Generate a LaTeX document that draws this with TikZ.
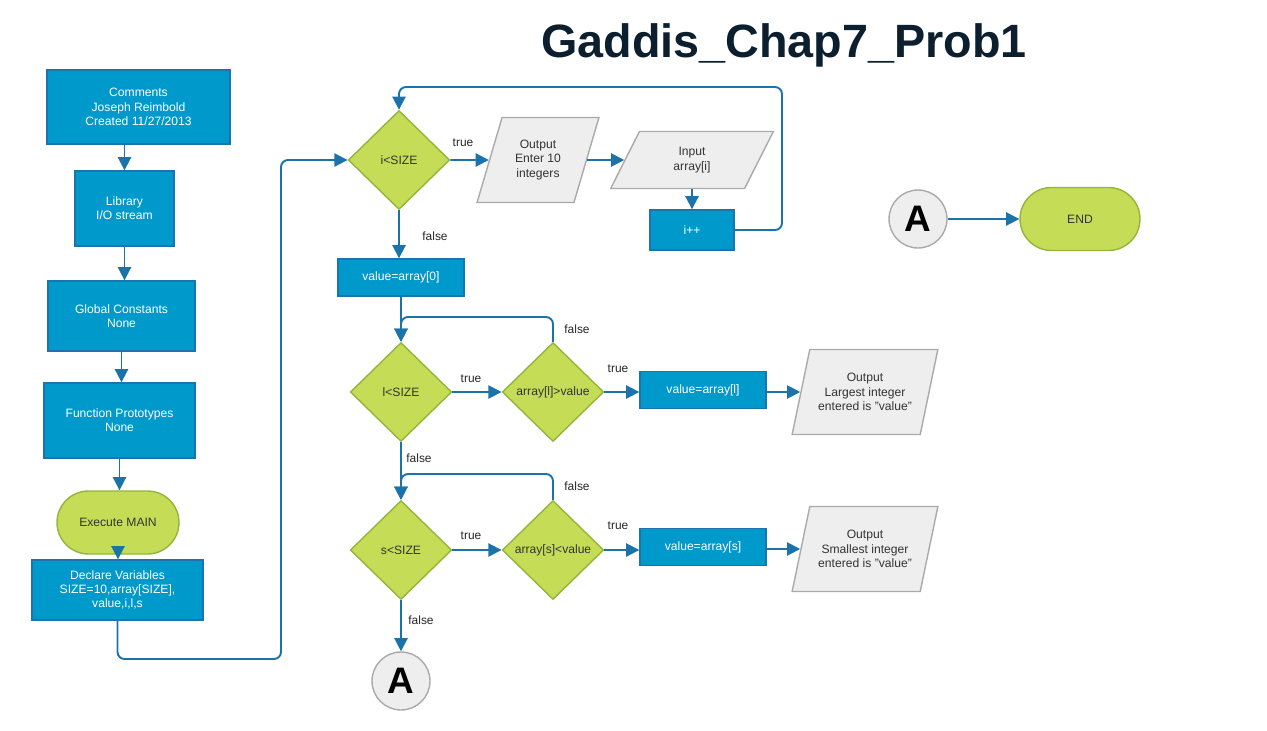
\documentclass[tikz,border=0pt]{standalone}
\usepackage{fontspec}
\setmainfont{Liberation Sans}
\usepackage{tikz}
\usetikzlibrary{shapes.geometric,shapes.misc,arrows.meta}

\definecolor{boxblue}{HTML}{0099CC}
\definecolor{boxedge}{HTML}{1B75AC}
\definecolor{flowblue}{HTML}{1C73AA}
\definecolor{decgreen}{HTML}{C5DC57}
\definecolor{decedge}{HTML}{95B53A}
\definecolor{iogrey}{HTML}{EEEEEE}
\definecolor{ioedge}{HTML}{AAAAAA}
\definecolor{titleblue}{HTML}{0B1F2E}

\tikzset{
  txt/.style={font=\fontsize{6.9}{8.1}\selectfont, align=center},
  proc/.style={txt, rectangle, draw=boxedge, fill=boxblue, line width=0.8pt, text=white, inner sep=0pt},
  dec/.style={txt, diamond, aspect=1, draw=decedge, fill=decgreen, line width=0.8pt, text=black!80,
              inner sep=0pt, minimum width=2.03cm, minimum height=1.98cm},
  io/.style={txt, trapezium, trapezium left angle=68, trapezium right angle=112, trapezium stretches=true,
             draw=ioedge, fill=iogrey, line width=0.8pt, text=black!80, inner sep=0pt},
  term/.style={txt, rounded rectangle, draw=decedge, fill=decgreen, line width=0.8pt, text=black!80, inner sep=0pt},
  conn/.style={circle, draw=ioedge, fill=iogrey, line width=0.8pt, minimum size=1.16cm, inner sep=0pt,
               font=\bfseries\fontsize{21}{21}\selectfont},
  flow/.style={draw=flowblue, line width=1.1pt, rounded corners=4pt, -{Triangle[length=7.5pt,width=7.5pt]}},
  lbl/.style={font=\fontsize{6.8}{8}\selectfont, text=black!85}
}

\begin{document}
\begin{tikzpicture}[x=0.02cm, y=-0.02cm]
      \useasboundingbox (0,0) rectangle (1267,730);
      \node[font=\bfseries\fontsize{26.6}{27}\selectfont, text=titleblue] (Title) at (784,45) {Gaddis\_Chap7\_Prob1};

      % left column
      \node[proc, minimum width=3.66cm, minimum height=1.48cm] (Comm) at (138.5,107) {Comments\\Joseph Reimbold\\Created 11/27/2013};
      \node[proc, minimum width=1.98cm, minimum height=1.5cm] (Lib) at (124.5,208.5) {Library\\I/O stream};
      \node[proc, minimum width=2.94cm, minimum height=1.4cm] (Glob) at (121.5,316) {Global Constants\\None};
      \node[proc, minimum width=3.02cm, minimum height=1.5cm] (Proto) at (119.5,420.5) {Function Prototypes\\None};
      \node[term, minimum width=2.44cm, minimum height=1.26cm] (Main) at (118,522.5) {Execute MAIN};
      \node[proc, minimum width=3.42cm, minimum height=1.2cm] (Decl) at (117.5,590) {Declare Variables\\SIZE=10,array[SIZE],\\value,i,l,s};

      % input loop
      \node[dec] (DecI) at (399,160) {i<SIZE};
      \node[io, minimum width=2.44cm, minimum height=1.7cm] (OutEnter) at (538,160) {Output\\Enter 10\\integers};
      \node[io, minimum width=3.26cm, minimum height=1.14cm] (InArr) at (692,160) {Input\\array[i]};
      \node[proc, minimum width=1.68cm, minimum height=0.8cm] (IncI) at (692,230) {i++};
      \node[proc, minimum width=2.52cm, minimum height=0.74cm] (Val0) at (401,277.5) {value=array[0]};
      \coordinate (LoopI) at (782,87);
      \coordinate (BendD) at (281,659);

      % largest
      \node[dec] (DecL) at (401,392) {l<SIZE};
      \node[dec] (DecLg) at (553,392) {array[l]>value};
      \node[proc, minimum width=2.52cm, minimum height=0.74cm] (ValL) at (703,390) {value=array[l]};
      \node[io, minimum width=2.92cm, minimum height=1.7cm] (OutL) at (865,392) {Output\\Largest integer\\entered is "value"};
      \coordinate (JoinL) at (401,317);

      % smallest
      \node[dec] (DecS) at (401,550) {s<SIZE};
      \node[dec] (DecSm) at (553,550) {array[s]<value};
      \node[proc, minimum width=2.52cm, minimum height=0.74cm] (ValS) at (703,547) {value=array[s]};
      \node[io, minimum width=2.92cm, minimum height=1.7cm] (OutS) at (865,549) {Output\\Smallest integer\\entered is "value"};
      \coordinate (JoinS) at (401,474);

      \node[conn] (ConA1) at (401,681) {A};
      \node[conn] (ConA2) at (918,219) {A};
      \node[term, minimum width=2.4cm, minimum height=1.26cm] (End) at (1080,219) {END};

      \node[lbl] (TrueI) at (463,143) {true};
      \node[lbl] (FalseI) at (435,236) {false};
      \node[lbl] (FalseLg) at (577,329) {false};
      \node[lbl] (TrueL) at (471,379) {true};
      \node[lbl] (TrueLg) at (618,369) {true};
      \node[lbl] (FalseL) at (419,458) {false};
      \node[lbl] (FalseSm) at (577,486) {false};
      \node[lbl] (TrueS) at (471,536) {true};
      \node[lbl] (TrueSm) at (618,526) {true};
      \node[lbl] (FalseS) at (421,620) {false};

      \draw[flow] (Comm.south -| Lib.north) -- (Lib.north);
      \draw[flow] (Lib.south) -- (Lib.south |- Glob.north);
      \draw[flow] (Glob.south) -- (Glob.south |- Proto.north);
      \draw[flow] (Proto.south) -- (Proto.south |- Main.north);
      \draw[flow] (Main.south) -- (Main.south |- Decl.north);
      \draw[flow] (Decl.south) |- (BendD) |- (DecI.west);
      \draw[flow] (DecI.east) -- (OutEnter.west);
      \draw[flow] (OutEnter.east) -- (InArr.west);
      \draw[flow] (InArr.south) -- (IncI.north);
      \draw[flow] (IncI.east) -| (LoopI) -| (DecI.north);
      \draw[flow] (DecI.south) -- (DecI.south |- Val0.north);
      \draw[flow] (Val0.south) -- (DecL.north);
      \draw[flow] (DecL.east) -- (DecLg.west);
      \draw[flow] (DecLg.north) |- (JoinL) -- (DecL.north);
      \draw[flow] (DecLg.east) -- (ValL.west |- DecLg.east);
      \draw[flow] (ValL.east |- OutL.west) -- (OutL.west);
      \draw[flow] (DecL.south) -- (DecS.north);
      \draw[flow] (DecS.east) -- (DecSm.west);
      \draw[flow] (DecSm.north) |- (JoinS) -- (DecS.north);
      \draw[flow] (DecSm.east) -- (ValS.west |- DecSm.east);
      \draw[flow] (ValS.east |- OutS.west) -- (OutS.west);
      \draw[flow] (DecS.south) -- (ConA1.north);
      \draw[flow] (ConA2.east) -- (End.west);
    \end{tikzpicture}
\end{document}
